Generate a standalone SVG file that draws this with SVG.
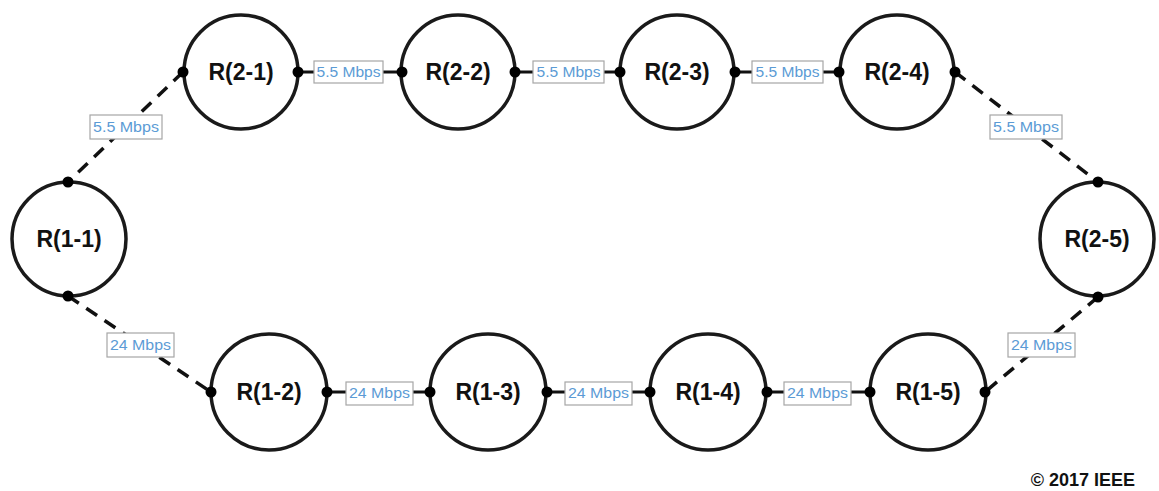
<svg xmlns="http://www.w3.org/2000/svg" width="1159" height="491" viewBox="0 0 1159 491">
<style>
.node{fill:#fff;stroke:#1a1a1a;stroke-width:3.5}
.nt{font-family:"Liberation Sans",Arial,sans-serif;font-weight:bold;font-size:23px;fill:#111;text-anchor:middle}
.solid{stroke:#111;stroke-width:3;fill:none}
.dash{stroke:#111;stroke-width:3.5;fill:none;stroke-dasharray:13 9}
.dot{fill:#000}
.lb{fill:#fff;stroke:#a6a6a6;stroke-width:1.2}
.lt{font-family:"Liberation Sans",Arial,sans-serif;font-size:14px;fill:#5b9bd5;text-anchor:middle}
</style>
<rect width="1159" height="491" fill="#fff"/>
<g id="connectors">
  <line class="solid" x1="298" y1="72" x2="402" y2="72"/>
  <line class="solid" x1="515" y1="72" x2="620" y2="72"/>
  <line class="solid" x1="735" y1="72" x2="839" y2="72"/>
  <line class="solid" x1="327" y1="392" x2="430" y2="392"/>
  <line class="solid" x1="547" y1="392" x2="650" y2="392"/>
  <line class="solid" x1="767" y1="392" x2="870" y2="392"/>
  <line class="dash" x1="183" y1="72" x2="68" y2="182"/>
  <line class="dash" x1="68" y1="296" x2="211" y2="392"/>
  <line class="dash" x1="955" y1="72" x2="1098" y2="182"/>
  <line class="dash" x1="1098" y1="297" x2="985" y2="392"/>
  <rect class="lb" x="314" y="61" width="69" height="22"/>
  <text class="lt" x="348.5" y="77" textLength="64" lengthAdjust="spacingAndGlyphs">5.5 Mbps</text>
  <rect class="lb" x="533" y="61" width="71" height="22"/>
  <text class="lt" x="568.5" y="77" textLength="64" lengthAdjust="spacingAndGlyphs">5.5 Mbps</text>
  <rect class="lb" x="752" y="61" width="71" height="22"/>
  <text class="lt" x="787.5" y="77" textLength="64" lengthAdjust="spacingAndGlyphs">5.5 Mbps</text>
  <rect class="lb" x="90" y="115" width="72" height="24"/>
  <text class="lt" x="126" y="132" textLength="66" lengthAdjust="spacingAndGlyphs">5.5 Mbps</text>
  <rect class="lb" x="990" y="115" width="72" height="24"/>
  <text class="lt" x="1026" y="132" textLength="66" lengthAdjust="spacingAndGlyphs">5.5 Mbps</text>
  <rect class="lb" x="107" y="333" width="67" height="24"/>
  <text class="lt" x="140.5" y="350" textLength="61" lengthAdjust="spacingAndGlyphs">24 Mbps</text>
  <rect class="lb" x="1008" y="333" width="67" height="24"/>
  <text class="lt" x="1041.5" y="350" textLength="61" lengthAdjust="spacingAndGlyphs">24 Mbps</text>
  <rect class="lb" x="346" y="382" width="67" height="23"/>
  <text class="lt" x="379.5" y="398" textLength="61" lengthAdjust="spacingAndGlyphs">24 Mbps</text>
  <rect class="lb" x="565" y="382" width="67" height="23"/>
  <text class="lt" x="598.5" y="398" textLength="61" lengthAdjust="spacingAndGlyphs">24 Mbps</text>
  <rect class="lb" x="784" y="382" width="67" height="23"/>
  <text class="lt" x="817.5" y="398" textLength="61" lengthAdjust="spacingAndGlyphs">24 Mbps</text>
</g>
<g id="R2-1"><circle class="node" cx="241" cy="72" r="57"/><text class="nt" x="241" y="80">R(2-1)</text></g>
<g id="R2-2"><circle class="node" cx="458" cy="72" r="57"/><text class="nt" x="458" y="80">R(2-2)</text></g>
<g id="R2-3"><circle class="node" cx="677" cy="72" r="57"/><text class="nt" x="677" y="80">R(2-3)</text></g>
<g id="R2-4"><circle class="node" cx="897" cy="72" r="57"/><text class="nt" x="897" y="80">R(2-4)</text></g>
<g id="R2-5"><circle class="node" cx="1097" cy="239" r="57"/><text class="nt" x="1097" y="247">R(2-5)</text></g>
<g id="R1-1"><circle class="node" cx="69" cy="239" r="57"/><text class="nt" x="69" y="247">R(1-1)</text></g>
<g id="R1-2"><circle class="node" cx="269" cy="392" r="58"/><text class="nt" x="269" y="400">R(1-2)</text></g>
<g id="R1-3"><circle class="node" cx="488" cy="392" r="58"/><text class="nt" x="488" y="400">R(1-3)</text></g>
<g id="R1-4"><circle class="node" cx="708" cy="392" r="58"/><text class="nt" x="708" y="400">R(1-4)</text></g>
<g id="R1-5"><circle class="node" cx="928" cy="392" r="58"/><text class="nt" x="928" y="400">R(1-5)</text></g>
<g id="dots">
  <circle class="dot" cx="183" cy="72" r="5.5"/><circle class="dot" cx="298" cy="72" r="5.5"/>
  <circle class="dot" cx="402" cy="72" r="5.5"/><circle class="dot" cx="515" cy="72" r="5.5"/>
  <circle class="dot" cx="620" cy="72" r="5.5"/><circle class="dot" cx="735" cy="72" r="5.5"/>
  <circle class="dot" cx="839" cy="72" r="5.5"/><circle class="dot" cx="955" cy="72" r="5.5"/>
  <circle class="dot" cx="1098" cy="182" r="5.5"/><circle class="dot" cx="1098" cy="297" r="5.5"/>
  <circle class="dot" cx="68" cy="182" r="5.5"/><circle class="dot" cx="68" cy="296" r="5.5"/>
  <circle class="dot" cx="211" cy="392" r="5.5"/><circle class="dot" cx="327" cy="392" r="5.5"/>
  <circle class="dot" cx="430" cy="392" r="5.5"/><circle class="dot" cx="547" cy="392" r="5.5"/>
  <circle class="dot" cx="650" cy="392" r="5.5"/><circle class="dot" cx="767" cy="392" r="5.5"/>
  <circle class="dot" cx="870" cy="392" r="5.5"/><circle class="dot" cx="985" cy="392" r="5.5"/>
</g>
<text x="1135" y="486" font-family="'Liberation Sans',Arial,sans-serif" font-weight="bold" font-size="18" fill="#111" text-anchor="end">© 2017 IEEE</text>
</svg>
